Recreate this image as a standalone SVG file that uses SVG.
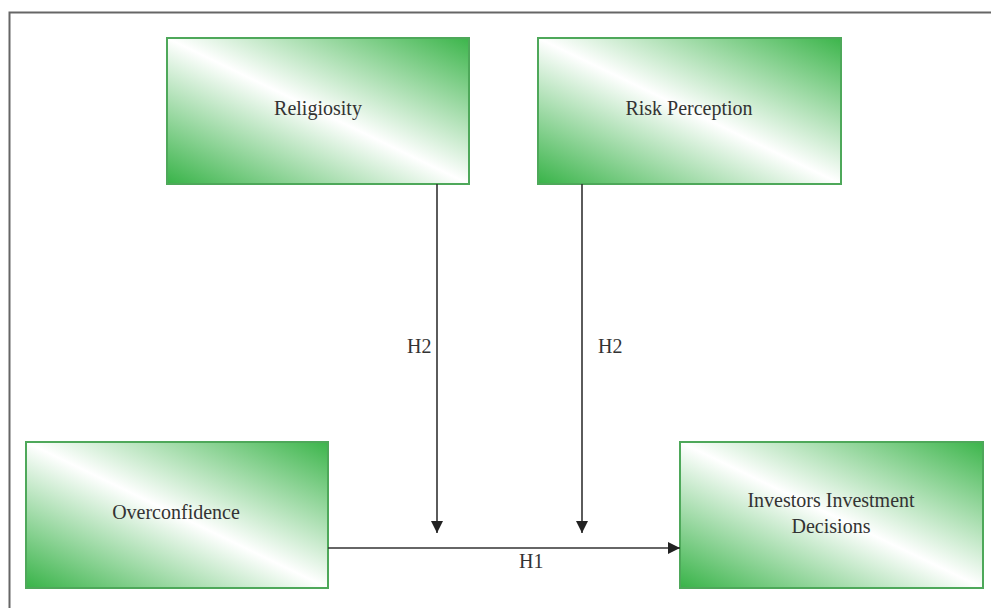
<svg xmlns="http://www.w3.org/2000/svg" width="991" height="608" viewBox="0 0 991 608">
<defs>
<linearGradient id="g" x1="0" y1="1" x2="1" y2="0">
<stop offset="0" stop-color="#38b348"/>
<stop offset="0.5" stop-color="#ffffff"/>
<stop offset="1" stop-color="#3cb54b"/>
</linearGradient>
<marker id="ah" viewBox="0 0 12 12" refX="12" refY="6" markerWidth="12" markerHeight="12" markerUnits="userSpaceOnUse" orient="auto">
<path d="M0,0 L12,6 L0,12 Z" fill="#222"/>
</marker>
</defs>
<style>
.box{fill:url(#g);stroke:#4ea85a;stroke-width:2}
.lbl{font-family:"Liberation Serif","Times New Roman",serif;font-size:20px;fill:#333;text-anchor:middle}
.h{font-family:"Liberation Serif","Times New Roman",serif;font-size:20px;fill:#333}
.c{stroke:#333;stroke-width:1.6;fill:none}
</style>
<rect width="991" height="608" fill="#fff"/>
<path d="M9.5,608 V12.5 H991" fill="none" stroke="#666" stroke-width="2"/>
<g id="religiosity">
<rect class="box" x="167" y="38" width="302" height="146"/>
<text class="lbl" x="318" y="115">Religiosity</text>
</g>
<g id="risk-perception">
<rect class="box" x="538" y="38" width="303" height="146"/>
<text class="lbl" x="689" y="115">Risk Perception</text>
</g>
<g id="overconfidence">
<rect class="box" x="26" y="442" width="302" height="146"/>
<text class="lbl" x="176" y="519">Overconfidence</text>
</g>
<g id="investment-decisions">
<rect class="box" x="680" y="442" width="303" height="146"/>
<text class="lbl" x="831" y="507">Investors Investment</text>
<text class="lbl" x="831" y="533">Decisions</text>
</g>
<g id="connectors">
<line class="c" x1="437" y1="184" x2="437" y2="533" marker-end="url(#ah)"/>
<line class="c" x1="582" y1="184" x2="582" y2="533" marker-end="url(#ah)"/>
<line class="c" x1="328" y1="548" x2="680" y2="548" marker-end="url(#ah)"/>
<text class="h" x="407" y="353">H2</text>
<text class="h" x="598" y="353">H2</text>
<text class="h" x="519" y="568">H1</text>
</g>
</svg>
